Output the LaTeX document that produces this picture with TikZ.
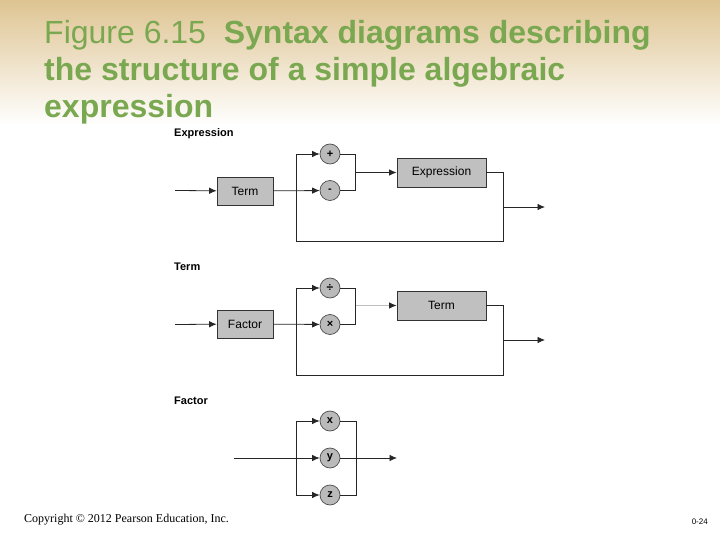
\documentclass[tikz,border=0pt]{standalone}
\usepackage{fontspec}
\setmainfont{Liberation Sans}
\newfontfamily\serifcopy{Liberation Serif}
\usetikzlibrary{arrows.meta}
\definecolor{titlegreen}{RGB}{122,168,80}
\definecolor{tan}{RGB}{222,196,146}
\definecolor{boxgray}{RGB}{192,192,192}
\tikzset{
  box/.style={draw=black!80, fill=boxgray, line width=0.7pt, inner sep=0pt, font=\fontsize{12}{14}\selectfont},
  tok/.style={circle, draw=black!70, fill=black!27, line width=0.7pt, minimum size=20pt, inner sep=0pt, font=\bfseries\fontsize{11}{12}\selectfont},
  conn/.style={draw=black!85, line width=0.8pt},
  arr/.style={conn, -{Latex[length=7.5pt,width=6.5pt]}},
  dlabel/.style={anchor=base west, inner sep=0pt, font=\bfseries\fontsize{11}{13}\selectfont},
  ttl/.style={anchor=base west, inner sep=0pt, text=titlegreen, font=\fontsize{32}{36}\selectfont}
}
\begin{document}
\begin{tikzpicture}[x=1pt,y=-1pt]
\useasboundingbox (0,0) rectangle (720,540);
\shade[top color=tan, bottom color=white] (0,0) rectangle (720,125);
% title
\node[ttl] (t1) at (44,44) {Figure 6.15\ \ \textbf{Syntax diagrams describing}};
\node[ttl] (t2) at (44,81) {\textbf{the structure of a simple algebraic}};
\node[ttl] (t3) at (44,118) {\textbf{expression}};
% ---------------- Expression
\node[dlabel] (lexp) at (174,137) {Expression};
\node[box, minimum width=56pt, minimum height=28pt] (term1) at (245,191) {Term};
\node[box, minimum width=89pt, minimum height=29pt] (expr1) at (441.5,172.5) {Expression};
\node[tok] (plus) at (330,154) {+};
\node[tok] (minus) at (330,190.5) {-};
\coordinate (ein) at (175,190.5);
\coordinate (ebT) at (296,154);
\coordinate (ebB) at (296,241);
\coordinate (ejB) at (503,241);
\coordinate (ejT) at (503,172.5);
\coordinate (ejO) at (503,207);
\coordinate (eout) at (545,207);
\coordinate (emT) at (355.5,154);
\coordinate (emB) at (355.5,190.5);
\coordinate (emM) at (355.5,172.5);
\draw[arr] (ein) -- (term1);
\draw[arr] (term1) -- (minus);
\draw[arr] (ebT) -- (plus);
\draw[conn] (ebT) -- (ebB) -- (ejB) -- (ejT) -- (expr1.east);
\draw[conn] (plus) -- (emT) -- (emB) -- (minus);
\draw[arr] (emM) -- (expr1);
\draw[arr] (ejO) -- (eout);
% ---------------- Term
\node[dlabel] (lterm) at (174,270) {Term};
\node[box, minimum width=56pt, minimum height=28pt] (factor1) at (245,324) {Factor};
\node[box, minimum width=89pt, minimum height=29pt] (term2) at (441.5,305.5) {Term};
\node[tok] (div) at (330,288) {\fontsize{12}{12}\selectfont ÷};
\node[tok] (times) at (330,324.5) {×};
\coordinate (tin) at (175,324.5);
\coordinate (tbT) at (296,288);
\coordinate (tbB) at (296,375);
\coordinate (tjB) at (503,375);
\coordinate (tjT) at (503,305.5);
\coordinate (tjO) at (503,340);
\coordinate (tout) at (545,340);
\coordinate (tmT) at (355.5,288);
\coordinate (tmB) at (355.5,324.5);
\coordinate (tmM) at (355.5,305.5);
\draw[arr] (tin) -- (factor1);
\draw[arr] (factor1) -- (times);
\draw[arr] (tbT) -- (div);
\draw[conn] (tbT) -- (tbB) -- (tjB) -- (tjT) -- (term2.east);
\draw[conn] (div) -- (tmT) -- (tmB) -- (times);
\draw[conn, draw=black!25] (tmM) -- ([xshift=-7pt]term2.west);
\draw[arr, draw=black!85] ([xshift=-7pt]term2.west) -- (term2);
\draw[arr] (tjO) -- (tout);
% ---------------- Factor
\node[dlabel] (lfac) at (174,404) {Factor};
\node[tok] (vx) at (330,421) {x};
\node[tok] (vy) at (330,458) {y};
\node[tok] (vz) at (330,495) {z};
\coordinate (fin) at (234,458);
\coordinate (fbT) at (296,421);
\coordinate (fbB) at (296,495);
\coordinate (fmT) at (356,421);
\coordinate (fmB) at (356,495);
\coordinate (fout) at (397,458);
\draw[arr] (fin) -- (vy);
\draw[arr] (fbT) -- (vx);
\draw[arr] (fbB) -- (vz);
\draw[conn] (fbT) -- (fbB);
\draw[conn] (vx) -- (fmT) -- (fmB) -- (vz);
\draw[arr] (vy) -- (fout);
% footer
\node[anchor=base west, inner sep=0pt, font=\serifcopy\fontsize{12}{14}\selectfont] (copy) at (24,522) {Copyright © 2012 Pearson Education, Inc.};
\node[anchor=base east, inner sep=0pt, font=\fontsize{8}{10}\selectfont] (pg) at (708,524) {0-24};
\end{tikzpicture}
\end{document}
